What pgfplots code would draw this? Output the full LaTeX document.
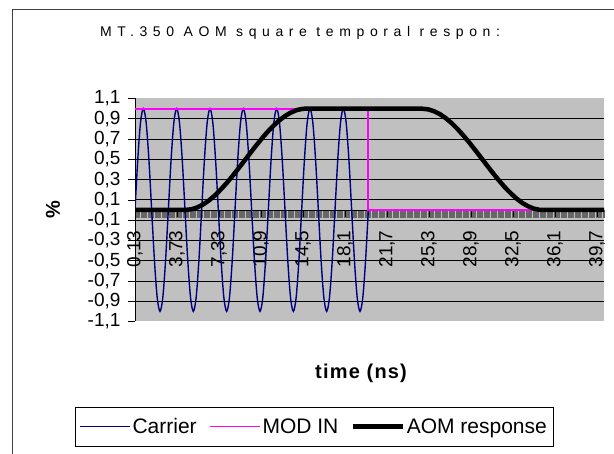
\documentclass[border=0pt]{standalone}
\usepackage{fontspec}
\setmainfont{Liberation Sans}
\newfontfamily\titlefont[LetterSpace=40]{Liberation Sans}
\newfontfamily\spacedfont[LetterSpace=6]{Liberation Sans}
\usepackage{pgfplots}
\pgfplotsset{compat=1.18}
\definecolor{carrier}{HTML}{000080}
\definecolor{modin}{HTML}{FF00FF}
\definecolor{plotbg}{HTML}{C0C0C0}

\begin{document}
\begin{tikzpicture}
\useasboundingbox (0,0) rectangle (614bp,454bp);
% chart area border (cut off at right and bottom)
\draw[black!75, line width=0.8bp] (12bp,0) -- (12bp,445bp) -- (614bp,445bp);
\begin{axis}[
    at={(135bp,132.5bp)}, anchor=south west,
    scale only axis, width=469bp, height=223bp,
    xmin=0.13, xmax=40.33, ymin=-1.1, ymax=1.1,
    axis x line*=middle, axis y line*=left,
    hide obscured x ticks=false,
    axis line style={black, line width=0.8bp},
    axis background/.style={fill=plotbg},
    tick align=outside,
    major tick length=7bp, minor tick length=7.5bp,
    every tick/.style={black, line width=0.6bp},
    minor tick style={line width=0.6bp, black!60},
    xtick={0.13,3.73,7.33,10.93,14.53,18.13,21.73,25.33,28.93,32.53,36.13,39.73},
    xticklabels={{0,13},{3,73},{7,33},{10,9},{14,5},{18,1},{21,7},{25,3},{28,9},{32,5},{36,1},{39,7}},
    minor xtick={0.13,0.23,...,40.33},
    ytick={-0.9,-0.7,-0.5,-0.3,-0.1,0.1,0.3,0.5,0.7,0.9},
    yticklabels={{-0,9},{-0,7},{-0,5},{-0,3},{-0,1},{0,1},{0,3},{0,5},{0,7},{0,9}},
    extra y ticks={-1.1,1.1},
    extra y tick labels={{-1,1},{1,1}},
    extra y tick style={grid=none},
    ymajorgrids,
    major grid style={black, line width=0.8bp},
    tick label style={font=\fontsize{19bp}{22bp}\selectfont},
    yticklabel style={xshift=-4bp},
    xticklabel style={yshift=-10bp, rotate=90, anchor=east},
    title={\titlefont\fontsize{14bp}{17bp}\selectfont MT.350 AOM square temporal respon:},
    title style={at={(0.352,1.267)}, anchor=center},
    xlabel={\spacedfont\bfseries time (ns)},
    xlabel style={at={(0.482,-0.232)}, anchor=center, font=\fontsize{20bp}{24bp}\selectfont},
    ylabel={\bfseries\%},
    ylabel style={at={(-0.175,0.5)}, anchor=center, font=\fontsize{20bp}{24bp}\selectfont},
    legend columns=3,
    legend style={at={(-0.128,-0.383)}, anchor=north west, draw=black,
        font=\fontsize{21bp}{24bp}\selectfont, inner xsep=4bp, inner ysep=9bp,
        /tikz/every even column/.append style={column sep=10bp}},
    legend image code/.code={\draw[#1] (0bp,0bp) -- (50bp,0bp);},
]

\addplot[color=carrier, line width=1.4bp, smooth] coordinates {
    (0.130,0)(0.368,0.5)(0.606,0.866)(0.844,1)(1.082,0.866)(1.320,0.5)(1.559,0)(1.797,-0.5)(2.035,-0.866)(2.273,-1)(2.511,-0.866)(2.749,-0.5)
    (2.987,0)(3.225,0.5)(3.463,0.866)(3.701,1)(3.939,0.866)(4.177,0.5)(4.416,0)(4.654,-0.5)(4.892,-0.866)(5.130,-1)(5.368,-0.866)(5.606,-0.5)
    (5.844,0)(6.082,0.5)(6.320,0.866)(6.558,1)(6.796,0.866)(7.034,0.5)(7.273,0)(7.511,-0.5)(7.749,-0.866)(7.987,-1)(8.225,-0.866)(8.463,-0.5)
    (8.701,0)(8.939,0.5)(9.177,0.866)(9.415,1)(9.653,0.866)(9.891,0.5)(10.130,0)(10.368,-0.5)(10.606,-0.866)(10.844,-1)(11.082,-0.866)(11.320,-0.5)
    (11.559,0)(11.797,0.5)(12.035,0.866)(12.273,1)(12.511,0.866)(12.749,0.5)(12.988,0)(13.226,-0.5)(13.464,-0.866)(13.702,-1)(13.940,-0.866)(14.178,-0.5)
    (14.416,0)(14.654,0.5)(14.892,0.866)(15.130,1)(15.368,0.866)(15.606,0.5)(15.845,0)(16.083,-0.5)(16.321,-0.866)(16.559,-1)(16.797,-0.866)(17.035,-0.5)
    (17.273,0)(17.511,0.5)(17.749,0.866)(17.987,1)(18.225,0.866)(18.463,0.5)(18.702,0)(18.940,-0.5)(19.178,-0.866)(19.416,-1)(19.654,-0.866)(19.892,-0.5)
    (20.130,0)
};
\addlegendentry{Carrier}

\addplot[color=modin, line width=1.8bp] coordinates {
    (0.13,1)(20.13,1)(20.13,0)(40.33,0)
};
\addlegendentry{MOD IN}

\addplot[color=black, line width=4.5bp] coordinates {
    (0.13,0)(4.4,0)(5.0,0.008)(5.5,0.027)(6.0,0.057)(6.5,0.097)(7.0,0.146)(7.5,0.204)(8.0,0.268)(8.5,0.337)
    (9.0,0.410)(9.5,0.485)(10.0,0.560)(10.5,0.634)(11.0,0.705)(11.5,0.772)(12.0,0.831)(12.5,0.884)(13.0,0.928)
    (13.5,0.962)(14.0,0.986)(14.5,0.998)(14.8,1)(24.7,1)(25.3,0.992)(25.8,0.973)(26.3,0.943)(26.8,0.903)
    (27.3,0.854)(27.8,0.796)(28.3,0.732)(28.8,0.663)(29.3,0.590)(29.8,0.515)(30.3,0.440)(30.8,0.366)
    (31.3,0.295)(31.8,0.228)(32.3,0.169)(32.8,0.116)(33.3,0.072)(33.8,0.038)(34.3,0.014)(34.8,0.002)(35.1,0)(40.33,0)
};
\addlegendentry{AOM response}

\end{axis}
\end{tikzpicture}
\end{document}
